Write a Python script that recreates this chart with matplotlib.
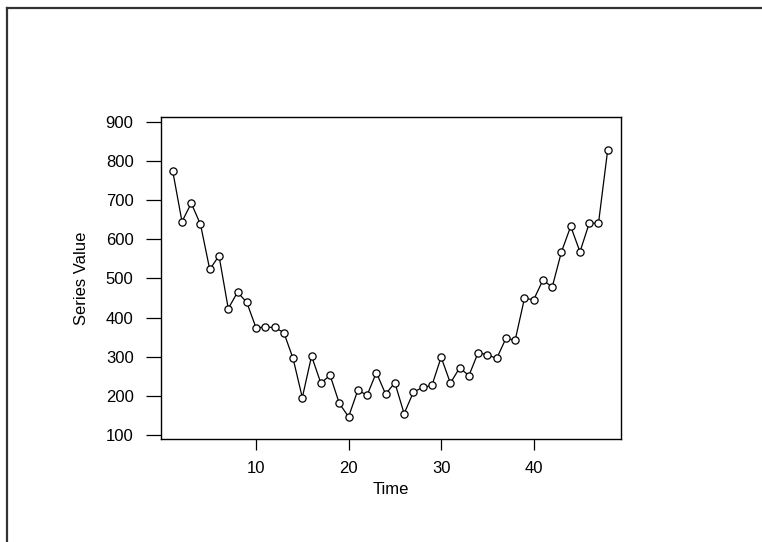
import matplotlib
matplotlib.use("Agg")
import matplotlib.pyplot as plt
from matplotlib.lines import Line2D

plt.rcParams['font.family'] = ['Liberation Sans', 'DejaVu Sans']

time = list(range(1, 49))
values = [774, 645, 692, 638, 523, 558, 423, 465, 439, 374,
          376, 375, 362, 296, 196, 302, 233, 253, 181, 147,
          215, 202, 260, 205, 234, 155, 210, 222, 227, 299,
          233, 272, 252, 311, 305, 296, 347, 343, 449, 446,
          496, 478, 568, 633, 568, 641, 641, 829]
yticks = [100, 200, 300, 400, 500, 600, 700, 800, 900]
xticks = [10, 20, 30, 40]

W, H = 762, 542
fig = plt.figure(figsize=(W / 100, H / 100), dpi=100)
fig.patch.set_facecolor('white')

# outer frame lines (top and left)
fig.add_artist(Line2D([7 / W, 1.0], [1 - 8 / H, 1 - 8 / H], transform=fig.transFigure,
                      color='#333333', lw=1.6))
fig.add_artist(Line2D([7 / W, 7 / W], [0.0, 1 - 8 / H], transform=fig.transFigure,
                      color='#333333', lw=1.6))

left, right, top, bottom = 160.7, 620.7, 116.7, 439.3
ax = fig.add_axes([left / W, 1 - bottom / H, (right - left) / W, (bottom - top) / H])

ax.plot(time, values, color='black', lw=0.9, marker='o', markersize=5.2,
        markerfacecolor='white', markeredgecolor='black', markeredgewidth=0.9)

ax.set_xlim(-0.3, 49.4)
ax.set_ylim(89.6, 912.8)
ax.set_xticks(xticks)
ax.set_yticks(yticks)
ax.set_xticklabels([str(v) for v in xticks], fontsize=12)
ax.set_yticklabels([str(v) for v in yticks], fontsize=12)
ax.tick_params(axis='y', length=10.5, width=0.9, pad=9)
ax.tick_params(axis='x', length=8, width=0.9, pad=7.5)
for s in ax.spines.values():
    s.set_linewidth(1.0)
    s.set_color('black')

ax.set_xlabel('Time', fontsize=12, labelpad=4.5)
ax.set_ylabel('Series Value', fontsize=12, labelpad=12)

fig.savefig('out.png', dpi=100)
